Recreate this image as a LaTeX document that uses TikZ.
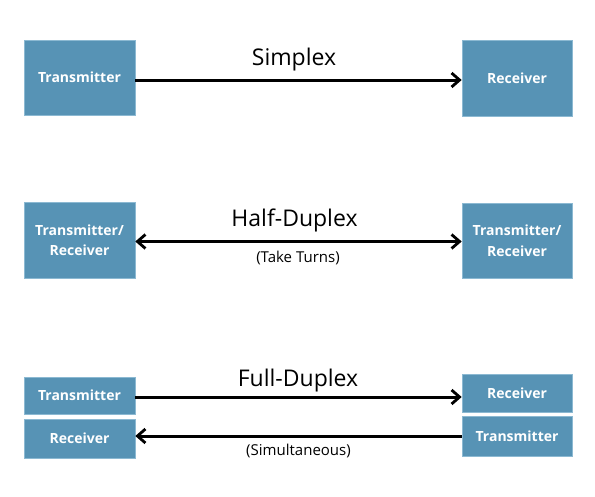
\documentclass[tikz,border=0pt]{standalone}
\usepackage{fontspec}
\setmainfont{Open Sans}
\usetikzlibrary{arrows.meta}
\definecolor{boxblue}{RGB}{87,147,181}
\definecolor{boxedge}{RGB}{140,185,210}
\tikzset{
  tip/.tip={Straight Barb[length=8pt,width=14pt,line width=2.8pt]},
  box/.style={fill=boxblue, draw=boxedge, line width=0.6pt, text=white, font=\bfseries\fontsize{14}{17}\selectfont, align=center, inner sep=0pt},
  conn/.style={line width=3pt, -tip},
  conn2/.style={line width=3pt, tip-tip},
  title/.style={font=\fontsize{23}{26}\selectfont, anchor=base},
  sub/.style={font=\fontsize{15}{18}\selectfont}
}
\begin{document}
\begin{tikzpicture}[x=1pt,y=-1pt]
\useasboundingbox (0,0) rectangle (595,496);
% Row 1
\node[box, minimum width=111pt, minimum height=75pt] (t1) at (79.5,77.5) {Transmitter};
\node[box, minimum width=110pt, minimum height=76pt] (r1) at (517,78) {Receiver};
\draw[conn] (t1.east |- 0,80) -- (r1.west |- 0,80);
\node[title] (l1) at (294,65) {Simplex};
% Row 2
\node[box, minimum width=111pt, minimum height=76pt] (tr2) at (79.5,240) {Transmitter/\\[3.5pt]Receiver};
\node[box, minimum width=110pt, minimum height=75pt] (rt2) at (517,240.5) {Transmitter/\\[3.5pt]Receiver};
\draw[conn2] (tr2.east |- 0,241.5) -- (rt2.west |- 0,241.5);
\node[title] (l2) at (294.5,226) {Half-Duplex};
\node[sub] (s2) at (298,257.5) {(Take Turns)};
% Row 3
\node[box, minimum width=111pt, minimum height=37pt] (t3) at (79.5,395.5) {Transmitter};
\node[box, minimum width=111pt, minimum height=39pt] (r3) at (79.5,438.5) {Receiver};
\node[box, minimum width=110pt, minimum height=38pt] (r3b) at (517,393) {Receiver};
\node[box, minimum width=110pt, minimum height=40pt] (t3b) at (517,436) {Transmitter};
\draw[conn] (t3.east |- 0,397) -- (r3b.west |- 0,397);
\draw[conn] (t3b.west |- 0,436) -- (r3.east |- 0,436);
\node[title] (l3) at (298,386) {Full-Duplex};
\node[sub] (s3) at (298.5,451) {(Simultaneous)};
\end{tikzpicture}
\end{document}
